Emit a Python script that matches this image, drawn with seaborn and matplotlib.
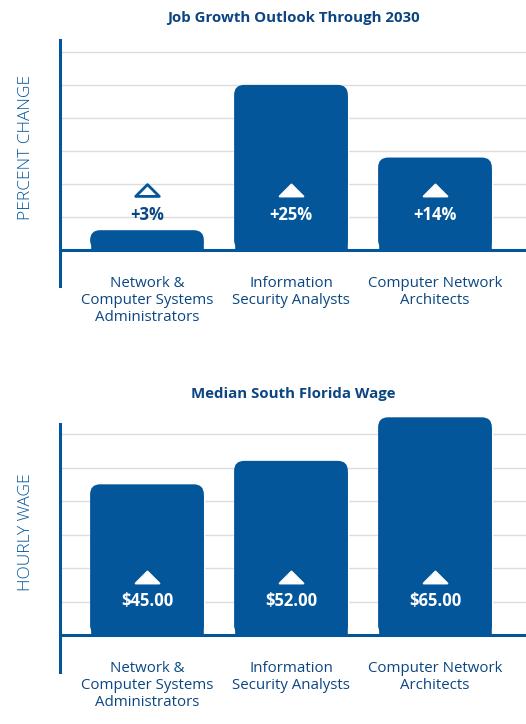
import matplotlib
matplotlib.use("Agg")
import numpy as np
import pandas as pd
import matplotlib.pyplot as plt
import seaborn as sns
from matplotlib.patches import FancyBboxPatch
from matplotlib.markers import MarkerStyle
from matplotlib.path import Path

roles = ["Network &\nComputer Systems\nAdministrators",
         "Information\nSecurity Analysts",
         "Computer Network\nArchitects"]
growth = [3, 25, 14]
growth_labels = ["+3%", "+25%", "+14%"]
wage = [45, 52, 65]
wage_labels = ["$45.00", "$52.00", "$65.00"]

BLUE = "#03569a"
NAVY = "#0b4682"
GRID = "#dcdcdc"

sns.set_theme(style="white")
plt.rcParams["font.family"] = ["Open Sans", "DejaVu Sans"]

# flat rounded triangle used as the "up" marker
tri_path = Path([(-1, -0.5), (1, -0.5), (0, 0.5), (-1, -0.5)], closed=True)
tri = MarkerStyle(tri_path, joinstyle="round")


def panel(ax, values, labels, title, ylabel, ylim, step, label_y, tri_y, px_unit, title_pad, tick_pad):
    df = pd.DataFrame({"role": roles, "value": values})
    sns.barplot(data=df, x="role", y="value", color=BLUE, width=0.79,
                saturation=1, ax=ax, zorder=2)
    ax.set_xlim(-0.604, 2.632)
    ax.set_ylim(*ylim)

    for g in np.arange(step, ylim[1], step):
        ax.axhline(g, color=GRID, lw=1, zorder=0)
    ax.axhline(0, color=BLUE, lw=2.2, zorder=4)

    # rounded tops: 10px radius
    rx = 10 / 144
    ry = 10 / px_unit
    for p in list(ax.patches):
        x, w, h = p.get_x(), p.get_width(), p.get_height()
        p.set_height(h - ry)
        p.set_clip_on(False)
        ax.add_patch(FancyBboxPatch((x, 0), w, h,
                                    boxstyle=f"round,pad=0,rounding_size={rx}",
                                    mutation_aspect=ry / rx, fc=BLUE, ec="none",
                                    zorder=2, clip_on=False))

    for i, (v, lab) in enumerate(zip(values, labels)):
        inside = label_y < v
        c = "white" if inside else NAVY
        ax.text(i, label_y, lab, ha="center", va="center", color=c,
                fontsize=12, fontweight="bold", zorder=5)
        ax.plot(i, tri_y, marker=tri, ms=17, mew=2 if not inside else 1.5,
                mfc="white", mec="white" if inside else BLUE, zorder=5)

    for s in ["top", "right", "bottom"]:
        ax.spines[s].set_visible(False)
    ax.spines["left"].set_color(BLUE)
    ax.spines["left"].set_linewidth(2.2)
    ax.set_yticks([])
    ax.set_xticks(range(3))
    ax.set_xticklabels(roles, color=NAVY, fontsize=10.8)
    ax.tick_params(axis="x", length=0, pad=tick_pad)
    ax.set_xlabel("")
    ax.set_ylabel(ylabel, color=BLUE, fontsize=12.5, fontweight="light")
    ax.yaxis.set_label_coords(-0.056, 0.565)
    ax.set_title(title, color=NAVY, fontsize=10.8, fontweight="bold", pad=title_pad)


fig = plt.figure(figsize=(5.26, 7.24), dpi=100)
ax1 = fig.add_axes([60 / 526, 438 / 724, 466 / 526, 246 / 724])
ax2 = fig.add_axes([60 / 526, 52 / 724, 466 / 526, 248 / 724])

panel(ax1, growth, growth_labels, "Job Growth Outlook Through 2030", "PERCENT CHANGE",
      (-5.45, 31.8), 5, 5.3, 9.1, 6.6, 13, -7.5)
panel(ax2, wage, wage_labels, "Median South Florida Wage", "HOURLY WAGE",
      (-11.0, 63.0), 10, 10.1, 17.3, 3.35, 19, -8)

fig.savefig("out.png", dpi=100)
